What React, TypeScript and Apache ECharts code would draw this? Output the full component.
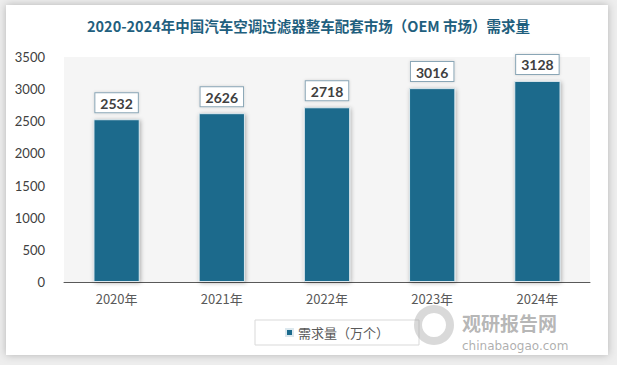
import React, { useEffect, useRef } from "react";
import * as echarts from "echarts";

const categories = ["2020年", "2021年", "2022年", "2023年", "2024年"];
const demand = [2532, 2626, 2718, 3016, 3128];
const seriesName = "需求量（万个）";
const titleText = "2020-2024年中国汽车空调过滤器整车配套市场（OEM 市场）需求量";

export default function App() {
  const ref = useRef<HTMLDivElement>(null);
  useEffect(() => {
    document.body.style.margin = "0";
    const chart = echarts.init(ref.current!, null, { renderer: "svg" });
    chart.setOption({
      animation: false,
      backgroundColor: "#eeeeee",
      title: {
        text: titleText,
        left: "center",
        top: 13,
        textStyle: {
          fontFamily: "Noto Sans CJK SC",
          fontSize: 14.5,
          fontWeight: "bold",
          color: "#1f5f7e",
        },
      },
      graphic: [
        {
          type: "rect",
          z: -10,
          shape: { x: 6, y: 5, width: 602, height: 350 },
          style: {
            fill: "#ffffff",
            shadowBlur: 8,
            shadowColor: "rgba(0,0,0,0.25)",
          },
          silent: true,
        },
        {
          type: "ring",
          shape: { cx: 434, cy: 325, r: 20, r0: 12 },
          z: 10,
          style: { fill: "rgba(160,160,160,0.4)" },
        },
        {
          type: "text",
          left: 462,
          top: 313,
          z: 10,
          style: {
            text: "观研报告网",
            font: "bold 19px 'Noto Sans CJK SC'",
            fill: "rgba(120,120,120,0.55)",
          },
        },
        {
          type: "text",
          left: 462,
          top: 340,
          z: 10,
          style: {
            text: "chinabaogao.com",
            font: "12px 'DejaVu Sans'",
            fill: "rgba(120,120,120,0.6)",
          },
        },
      ],
      grid: {
        left: 64,
        right: 27,
        top: 57,
        bottom: 83,
        show: true,
        backgroundColor: "#f5f5f5",
        borderWidth: 0,
      },
      legend: {
        data: [seriesName],
        left: 255,
        top: 320,
        icon: "rect",
        itemWidth: 7,
        itemHeight: 7,
        borderColor: "#d9d9d9",
        borderWidth: 1,
        padding: [6, 30, 6, 30],
        textStyle: {
          fontFamily: "Noto Sans CJK SC",
          fontSize: 13,
          color: "#595959",
        },
      },
      xAxis: {
        type: "category",
        data: categories,
        axisLine: { lineStyle: { color: "#595959", width: 1 } },
        axisTick: { show: false },
        axisLabel: {
          fontFamily: "Noto Sans CJK SC",
          fontSize: 13,
          lineHeight: 15,
          color: "#595959",
          margin: 9,
        },
      },
      yAxis: {
        type: "value",
        min: 0,
        max: 3500,
        interval: 500,
        splitLine: { show: false },
        axisLine: { show: false },
        axisTick: { show: false },
        axisLabel: {
          fontFamily: "Lato",
          fontSize: 13,
          color: "#404040",
          margin: 19,
          formatter: (v: number) => String(v),
        },
      },
      series: [
        {
          name: seriesName,
          type: "bar",
          data: demand,
          barWidth: "44%",
          itemStyle: {
            color: "#1b6a8c",
            borderColor: "#dce8ee",
            borderWidth: 1,
            shadowBlur: 4,
            shadowColor: "rgba(0,0,0,0.3)",
            shadowOffsetX: 1,
            shadowOffsetY: 1,
          },
          label: {
            show: true,
            position: "top",
            distance: 7,
            fontFamily: "Lato",
            fontSize: 14,
            fontWeight: "bold",
            color: "#404040",
            backgroundColor: "#ffffff",
            borderColor: "#8aa6b6",
            borderWidth: 1,
            padding: [3, 5, 2, 5],
            shadowBlur: 3,
            shadowColor: "rgba(0,0,0,0.15)",
          },
        },
      ],
    });
    return () => chart.dispose();
  }, []);
  return (
    <div
      ref={ref}
      style={{ position: "fixed", left: 0, top: 0, width: 617, height: 365 }}
    />
  );
}
